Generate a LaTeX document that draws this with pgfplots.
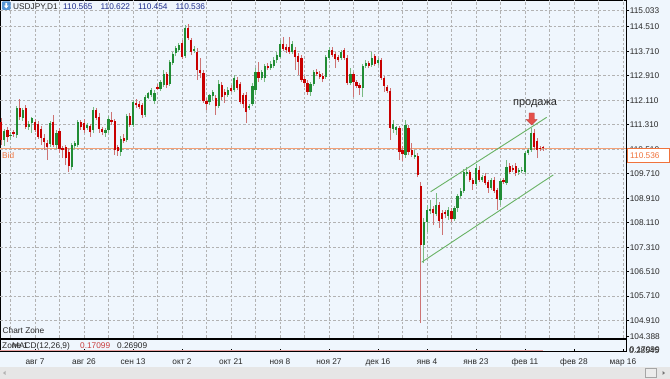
\documentclass[border=0pt]{standalone}
\usepackage{pgfplots}
\pgfplotsset{compat=1.18}
\usepackage{pgfplotstable}
\usepackage{fontspec}
\setmainfont{Liberation Sans}
\definecolor{bg}{RGB}{239,246,253}
\definecolor{gridc}{RGB}{178,178,178}
\definecolor{upbody}{RGB}{32,140,52}
\definecolor{upwick}{RGB}{120,186,130}
\definecolor{dnbody}{RGB}{200,0,0}
\definecolor{dnwick}{RGB}{205,115,115}
\definecolor{bidc}{RGB}{244,160,118}
\definecolor{bidtxt}{RGB}{240,115,60}
\definecolor{chan}{RGB}{105,178,100}
\definecolor{navy}{RGB}{30,45,140}
\definecolor{labc}{RGB}{40,40,40}
\definecolor{scrollc}{RGB}{230,230,230}
\definecolor{macdc}{RGB}{232,160,160}
\definecolor{arrowc}{RGB}{228,80,75}

\pgfdeclareplotmark{sellarrow}{%
  \pgfpathmoveto{\pgfpoint{0pt}{0pt}}%
  \pgfpathlineto{\pgfpoint{5.5pt}{5.5pt}}%
  \pgfpathlineto{\pgfpoint{2.6pt}{5.5pt}}%
  \pgfpathlineto{\pgfpoint{2.6pt}{12pt}}%
  \pgfpathlineto{\pgfpoint{-2.6pt}{12pt}}%
  \pgfpathlineto{\pgfpoint{-2.6pt}{5.5pt}}%
  \pgfpathlineto{\pgfpoint{-5.5pt}{5.5pt}}%
  \pgfpathclose
  \pgfusepathqfillstroke}

% bullish candles: bar index, open, high, low, close
\pgfplotstableread{
i o h l c
2 110.81 111.17 110.61 111.10
4 110.94 111.07 110.81 110.97
6 110.97 111.92 110.88 111.85
8 111.53 111.85 111.43 111.79
10 111.23 111.43 111.14 111.33
11 111.37 111.56 111.04 111.53
17 110.68 111.43 110.58 111.37
19 110.65 111.14 110.52 111.04
24 109.93 110.71 109.83 110.65
25 110.61 110.78 110.52 110.71
26 110.65 111.46 110.58 111.40
29 111.20 111.37 111.14 111.30
31 111.14 111.89 111.04 111.79
35 111.04 111.20 110.91 111.14
36 111.14 111.59 111.04 111.50
40 110.42 110.94 110.29 110.84
42 110.81 111.66 110.74 111.59
44 111.30 112.12 111.23 112.05
48 111.63 112.28 111.56 112.21
49 112.18 112.38 112.15 112.35
50 112.28 112.51 112.21 112.44
51 112.08 112.44 111.98 112.35
53 112.48 112.77 112.41 112.70
54 112.61 113.10 112.54 112.97
56 112.64 113.42 112.57 113.36
57 113.32 113.68 113.26 113.62
58 113.65 113.88 113.55 113.81
59 113.75 113.98 113.68 113.91
61 113.55 114.57 113.49 114.47
64 113.72 113.88 113.65 113.78
69 112.05 112.31 111.95 112.28
70 112.25 112.44 112.12 112.38
72 111.92 112.77 111.85 112.64
75 112.28 112.54 112.21 112.44
77 112.44 112.93 112.38 112.83
82 111.85 111.98 111.79 111.92
83 111.98 112.67 111.92 112.57
84 112.44 113.16 112.28 113.03
86 112.83 113.10 112.77 113.03
87 112.83 113.29 112.70 113.23
89 113.16 113.39 113.10 113.29
90 113.23 113.52 113.16 113.42
91 113.42 113.68 113.32 113.59
92 113.52 114.08 113.49 113.95
96 113.68 114.04 113.62 113.95
102 112.38 112.70 112.25 112.64
103 112.64 113.10 112.57 113.03
107 112.87 113.59 112.80 113.52
108 113.49 113.85 113.42 113.75
112 113.49 113.75 113.42 113.68
115 112.67 113.16 112.61 112.97
119 112.51 113.29 112.21 113.23
120 113.23 113.42 113.16 113.32
122 113.26 113.68 113.19 113.49
124 113.32 113.49 113.26 113.42
129 111.17 111.46 111.04 111.33
130 111.14 111.27 110.97 111.23
133 110.32 111.46 110.22 111.30
136 110.25 110.48 110.19 110.32
139 107.38 108.26 106.79 108.13
140 108.13 108.69 107.81 108.52
141 108.49 108.85 108.39 108.56
143 108.39 109.08 108.33 108.69
147 108.33 108.62 108.20 108.52
149 108.23 108.65 108.16 108.59
150 108.59 109.05 108.46 108.98
151 108.98 109.24 108.92 109.14
152 109.14 109.86 109.08 109.77
153 109.70 109.93 109.63 109.77
156 109.37 110.03 109.31 109.90
158 109.50 109.67 109.44 109.60
161 109.24 109.57 109.18 109.50
164 108.85 109.54 108.69 109.47
166 109.41 110.16 109.34 109.93
170 109.77 109.90 109.67 109.83
171 109.80 109.93 109.73 109.83
172 109.77 110.45 109.70 110.39
173 110.39 110.55 110.32 110.48
174 110.48 111.20 110.42 111.04
}\upcandles

% bearish candles: bar index, open, high, low, close
\pgfplotstableread{
i o h l c
1 111.40 111.53 110.65 110.81
3 111.14 111.23 110.74 110.91
5 111.07 111.14 110.91 111.01
7 111.85 112.15 111.46 111.56
9 111.85 111.95 111.17 111.23
12 111.40 111.50 111.07 111.14
13 111.33 111.43 110.84 110.91
14 111.17 111.27 110.65 110.88
15 110.88 111.01 110.48 110.74
16 110.71 110.81 110.16 110.58
18 111.40 111.63 110.58 110.65
20 111.10 111.20 110.39 110.52
21 110.55 110.61 110.22 110.48
22 110.58 110.65 109.99 110.22
23 110.42 110.55 109.77 109.96
27 111.40 111.46 111.14 111.23
28 111.37 111.50 111.04 111.14
30 111.27 111.33 110.91 111.07
32 111.79 111.85 111.46 111.53
33 111.56 111.69 111.04 111.17
34 111.17 111.23 110.97 111.07
37 111.46 111.72 111.30 111.40
38 111.43 111.50 110.32 110.48
39 110.58 110.65 110.29 110.45
41 110.88 111.01 110.71 110.78
43 111.59 111.69 111.23 111.30
45 112.02 112.15 111.85 111.95
46 111.98 112.08 111.82 111.89
47 111.95 112.02 111.53 111.63
52 112.54 112.64 112.44 112.48
55 112.97 113.03 112.51 112.61
60 113.98 114.08 113.45 113.52
62 114.47 114.60 114.08 114.14
63 114.08 114.14 113.59 113.68
65 113.68 113.81 112.77 113.10
66 113.10 113.49 112.83 113.00
67 113.00 113.10 112.02 112.08
68 112.08 112.18 111.79 111.98
71 112.18 112.28 111.63 111.92
73 112.61 112.70 112.12 112.21
74 112.38 112.48 112.02 112.28
76 112.51 112.61 112.38 112.41
78 112.77 112.87 112.44 112.51
79 112.64 112.70 111.98 112.05
80 112.28 112.35 111.85 111.98
81 112.28 112.38 111.37 111.72
85 113.03 113.36 112.70 112.83
88 113.23 113.32 113.10 113.16
93 113.95 114.17 113.72 113.78
94 113.85 113.95 113.65 113.75
95 113.85 114.17 113.62 113.68
97 113.75 113.85 113.10 113.52
98 113.55 113.65 112.93 113.36
99 113.49 113.59 112.70 112.77
100 112.80 112.90 112.54 112.67
101 112.67 112.77 112.28 112.38
104 113.03 113.13 112.90 112.97
105 112.97 113.06 112.80 112.87
106 112.90 113.00 112.70 112.80
109 113.75 113.85 113.52 113.59
110 113.62 113.68 113.16 113.45
111 113.52 113.59 113.36 113.42
113 113.75 113.81 113.42 113.49
114 113.49 113.59 112.61 112.67
116 112.97 113.03 112.21 112.70
117 112.70 112.77 112.51 112.57
118 112.61 112.67 112.28 112.51
121 113.32 113.39 113.16 113.23
123 113.55 113.62 113.23 113.29
125 113.42 113.49 112.77 112.83
126 112.83 112.90 112.38 112.57
127 112.54 112.61 112.35 112.41
128 112.41 112.51 110.81 111.20
131 111.20 111.27 110.16 110.42
132 110.48 110.61 110.12 110.35
134 111.20 111.30 110.32 110.42
135 110.48 110.71 110.25 110.32
137 110.29 110.39 109.60 109.67
138 109.31 109.44 104.83 107.38
142 108.56 108.65 108.03 108.43
144 108.69 108.78 107.94 108.16
145 108.43 108.52 107.71 108.23
146 108.46 108.52 108.26 108.39
148 108.49 108.59 108.13 108.23
154 109.77 109.83 109.44 109.50
155 109.50 109.57 109.18 109.37
157 109.83 109.96 109.44 109.50
159 109.63 109.73 109.34 109.41
160 109.44 109.50 109.08 109.24
162 109.50 109.60 109.08 109.14
163 109.18 109.24 108.52 108.88
165 109.50 109.57 109.37 109.44
167 109.96 110.06 109.70 109.77
168 109.90 109.99 109.77 109.83
169 109.96 110.06 109.63 109.73
175 111.04 111.17 110.48 110.58
176 110.78 110.88 110.22 110.48
177 110.55 110.61 110.45 110.52
178 110.565 110.622 110.454 110.536
}\dncandles

\newcommand{\sm}{\fontsize{8.3}{10}\selectfont}
\pgfplotsset{candle/.style={draw=none, mark=none, forget plot,
  error bars/.cd, y dir=plus, y explicit, error mark=none}}
\tikzset{gridline/.style={draw=gridc, dash pattern=on 2.5pt off 2pt, line width=0.75pt}}

\begin{document}
\begin{tikzpicture}
\fill[bg] (0pt,0pt) rectangle (670pt,379pt);
\path[use as bounding box] (0pt,0pt) rectangle (670pt,379pt);

% ---------------- main price panel ----------------
\begin{axis}[
  at={(0pt,41pt)}, anchor=south west,
  width=626pt, height=338pt, scale only axis,
  xmin=0.57, xmax=205, ymin=104.343, ymax=115.382,
  axis line style={black, line width=0.9pt},
  xtick=\empty,
  ytick={104.388,104.91,105.71,106.51,107.31,108.11,108.91,109.71,110.51,111.31,112.11,112.91,113.71,114.51,115.033},
  ytick pos=right, yticklabel pos=right,
  tick align=outside, major tick length=3pt,
  ytick style={black, line width=0.6pt},
  scaled y ticks=false,
  yticklabel style={font=\sm, text=labc, inner sep=0.6pt,
    /pgf/number format/.cd, fixed, fixed zerofill, precision=3, assume math mode=true},
]
% grid
\pgfplotsinvokeforeach{4,12,20,28,36,44,52,60,68,76,84,92,100,108,116,124,132,140,148,156,164,172,180,188,196,204}{%
  \draw[gridline] (axis cs:#1,104.343) -- (axis cs:#1,115.382);}
\pgfplotsinvokeforeach{104.91,105.71,106.51,107.31,108.11,108.91,109.71,110.51,111.31,112.11,112.91,113.71,114.51,115.033}{%
  \draw[gridline] (axis cs:0.57,#1) -- (axis cs:205,#1);}
% bid line
\addplot[color=bidc, line width=1pt, mark=none] coordinates {(0.57,110.536) (205,110.536)};
% wicks
\addplot[candle, error bar style={draw=upwick, line width=0.9pt}]
  table[x=i, y=l, y error plus expr={\thisrow{h}-\thisrow{l}}] {\upcandles};
\addplot[candle, error bar style={draw=dnwick, line width=0.9pt}]
  table[x=i, y=l, y error plus expr={\thisrow{h}-\thisrow{l}}] {\dncandles};
% bodies
\addplot[candle, error bar style={draw=upbody, line width=2.2pt, line cap=butt}]
  table[x=i, y=o, y error plus expr={\thisrow{c}-\thisrow{o}}] {\upcandles};
\addplot[candle, error bar style={draw=dnbody, line width=2.2pt, line cap=butt}]
  table[x=i, y=c, y error plus expr={\thisrow{o}-\thisrow{c}}] {\dncandles};
% channel
\addplot[color=chan, line width=0.9pt, mark=none] coordinates {(141.2,109.12) (179.1,111.55)};
\addplot[color=chan, line width=0.9pt, mark=none] coordinates {(138.3,106.82) (181.25,109.67)};
% sell arrow
\addplot[only marks, mark=sellarrow, mark options={fill=arrowc, draw=arrowc!80!black, line width=0.3pt}]
  coordinates {(174.2,111.30)};
\node[font=\fontsize{11}{12}\selectfont, text=labc] at (axis cs:175.3,111.985) {продажа};
\end{axis}

% ---------------- MACD panel ----------------
\begin{axis}[
  at={(0pt,27.3pt)}, anchor=south west,
  width=626pt, height=12.4pt, scale only axis,
  xmin=0.57, xmax=205, ymin=-1, ymax=1,
  axis line style={black, line width=0.9pt},
  ytick=\empty,
  xtick={12,28,...,204},
  xticklabels={авг 7, авг 26, сен 13, окт 2, окт 21, ноя 8, ноя 27, дек 16, янв 4, янв 23, фев 11, фев 28, мар 16},
  xtick pos=bottom, tick align=inside, major tick length=3pt,
  xtick style={black, line width=0.6pt},
  xticklabel style={font=\sm, text=labc, inner sep=0pt, yshift=-6.5pt},
]
\addplot[color=macdc, line width=1.2pt, mark=none] coordinates {(0.57,-0.78) (178,-0.78)};
\end{axis}

% ---------------- texts and decorations ----------------
\fill[rounded corners=1pt, fill={rgb,255:red,85;green,150;blue,215}] (2pt,369pt) rectangle (10.5pt,377.5pt);
\fill[white] (5.4pt,376pt) -- (7.1pt,376pt) -- (7.1pt,373.3pt) -- (8.6pt,373.3pt) -- (6.25pt,370.6pt) -- (3.9pt,373.3pt) -- (5.4pt,373.3pt) -- cycle;
\node[anchor=base west, inner sep=0pt, font=\sm, text=labc] at (13pt,369.8pt) {USDJPY,D1};
\node[anchor=base west, inner sep=0pt, font=\sm, text=navy] at (63pt,369.8pt) {110.565};
\node[anchor=base west, inner sep=0pt, font=\sm, text=navy] at (100.5pt,369.8pt) {110.622};
\node[anchor=base west, inner sep=0pt, font=\sm, text=navy] at (138pt,369.8pt) {110.454};
\node[anchor=base west, inner sep=0pt, font=\sm, text=navy] at (175.5pt,369.8pt) {110.536};
\node[anchor=base west, inner sep=0pt, font=\sm, text=bidtxt] at (2pt,220.5pt) {Bid};
\filldraw[fill=white, draw=bidtxt, line width=0.8pt] (627.5pt,216.5pt) rectangle (669.3pt,230.5pt);
\node[anchor=base west, inner sep=0pt, font=\sm, text=bidtxt] at (630pt,220.5pt) {110.536};
\node[anchor=base west, inner sep=0pt, font=\sm, text=labc] at (2.5pt,45pt) {Chart Zone};
\node[anchor=base west, inner sep=0pt, font=\sm, text=labc] at (2pt,30pt) {Zone 1};
\node[anchor=base west, inner sep=0pt, font=\sm, text=labc] at (12pt,30pt) {MACD(12,26,9)};
\node[anchor=base west, inner sep=0pt, font=\sm, text={rgb,255:red,200;green,60;blue,60}] at (80pt,30pt) {0.17099};
\node[anchor=base west, inner sep=0pt, font=\sm, text=labc] at (117pt,30pt) {0.26909};
\node[anchor=base west, inner sep=0pt, font=\sm, text=labc] at (629pt,25.5pt) {0.28545};
\node[anchor=base west, inner sep=0pt, font=\sm, text=labc] at (629.5pt,26.5pt) {0.17099};
\fill[scrollc] (0pt,0pt) rectangle (670pt,12pt);
\fill[gray!60] (5.5pt,8pt) -- (5.5pt,4pt) -- (3pt,6pt) -- cycle;
\filldraw[fill=gray!15, draw=gray!70, line width=0.5pt] (645pt,2pt) rectangle (656pt,10.5pt);
\fill[gray!90!black] (662.5pt,8pt) -- (662.5pt,4pt) -- (665pt,6pt) -- cycle;
\end{tikzpicture}
\end{document}
